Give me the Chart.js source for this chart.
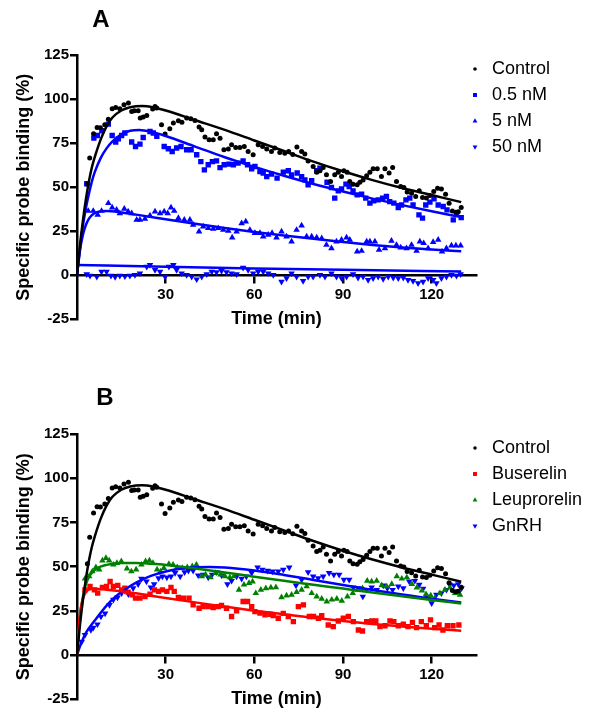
<!DOCTYPE html>
<html>
<head>
<meta charset="utf-8">
<script src="https://cdn.jsdelivr.net/npm/chart.js@4.4.1/dist/chart.umd.min.js"></script>
<style>
  html, body { margin: 0; padding: 0; background: #fff; }
  #page { position: relative; width: 591px; height: 710px; }
  .panel { position: absolute; left: 0; width: 591px; }
  #panelA { top: 0; height: 380px; }
  #panelB { top: 380px; height: 330px; }
</style>
</head>
<body>
<div id="page">
  <div class="panel" id="panelA"><canvas id="chartA"></canvas></div>
  <div class="panel" id="panelB"><canvas id="chartB"></canvas></div>
</div>
<script>
const FONT = '"Liberation Sans", Arial, sans-serif';

const timeTicks = [30, 60, 90, 120];
const bindingTicks = [-25, 0, 25, 50, 75, 100, 125];

// Control (same run in both panels)
const ctrlT = [3.5,4.3,5.6,6.8,7.9,9.4,10.6,11.9,13.1,14.5,15.9,17.4,18.5,19.4,20.7,21.4,22.4,23.6,25.6,26.4,27.0,28.6,29.8,31.4,32.6,34.3,35.5,37.1,38.5,39.9,41.3,42.2,43.3,44.7,46.1,47.2,48.4,49.7,51.2,52.3,53.7,55.1,56.6,57.9,59.6,61.3,62.8,64.2,65.8,66.9,68.6,70.3,71.6,73.0,74.4,76.0,77.1,78.2,79.9,81.1,82.2,83.3,84.4,85.8,87.2,88.4,89.5,90.3,91.4,92.3,93.4,94.8,95.7,96.8,98.0,99.1,100.2,101.6,103.0,104.2,105.6,106.8,108.1,109.5,110.6,111.7,113.2,114.6,115.8,116.9,118.2,119.4,120.7,122.0,123.3,124.7,125.9,127.0,128.2,129.0,130.0];
const ctrlV = [51.7,66.6,80.3,83.9,83.7,85.4,88.6,94.5,95.2,94.5,96.8,97.7,93.0,93.4,93.4,89.2,89.8,90.7,94.3,95.8,94.9,85.4,80.1,83.1,86.4,87.7,86.9,89.2,88.8,87.8,84.1,82.6,78.4,76.9,76.9,80.3,77.8,71.2,71.6,74.0,72.5,72.5,73.1,70.2,68.4,74.0,73.1,71.6,70.2,72.2,69.7,69.3,70.2,68.6,72.8,70.2,68.8,64.9,61.7,58.5,59.3,61.1,57.0,53.2,57.0,58.5,56.0,59.3,58.5,53.2,51.7,51.3,52.8,54.1,56.5,58.5,60.4,60.4,56.0,60.4,58.0,61.1,53.2,50.3,49.8,47.2,46.6,44.7,47.9,44.1,43.8,45.2,47.5,49.4,49.0,46.0,40.9,36.5,35.8,36.1,38.4];
const ctrlFitT = [0,1,2,3,4,5,6,8,10,12,15,18,22,26,30,40,50,60,70,80,90,100,110,120,130];
const ctrlFitV = [0,17,31,43,53,61,67,77,84.5,89.5,93.5,95.3,96,95.2,93.5,88,82.5,76.5,70.5,64.5,59,54,49.5,45.5,41.5];

// Panel A: 0.5 nM
const nm05T = [3.3,5.7,6.9,8.4,10.6,11.9,13.1,14.0,15.1,16.2,18.5,19.8,21.3,22.4,24.7,25.8,27.0,29.5,30.9,32.2,33.7,35.2,37.1,38.6,40.5,41.9,43.1,44.4,45.8,47.2,48.4,49.8,51.4,52.9,54.5,56.2,57.7,59.1,60.2,61.9,63.0,64.2,65.8,67.7,69.8,71.5,72.6,74.5,76.0,77.1,78.2,79.4,81.1,82.2,84.6,86.1,87.2,88.4,89.5,91.0,92.1,93.4,94.8,96.3,97.7,99.1,100.4,101.9,103.4,104.7,105.8,107.2,108.7,109.8,111.3,112.6,113.7,115.7,116.9,118.0,119.4,120.8,122.2,123.9,125.2,127.3,128.4,130.0];
const nm05V = [51.9,77.8,79.3,82.0,85.8,79.3,75.6,77.4,79.3,80.7,75.6,73.1,74.4,78.2,81.6,80.7,78.8,73.1,71.8,70.2,72.2,73.1,71.2,71.2,68.4,64.5,59.8,62.7,64.5,64.9,61.1,62.7,63.1,62.7,63.6,64.9,62.7,60.4,61.7,58.9,58.0,56.0,57.4,55.1,58.5,59.3,57.0,58.0,56.0,54.1,51.3,53.6,59.3,60.8,52.8,49.8,43.8,47.9,49.0,51.7,50.3,47.9,45.6,46.0,43.8,40.9,42.2,42.8,43.8,44.7,41.8,40.9,38.4,39.9,42.8,43.8,39.9,34.3,32.4,39.9,41.5,43.4,39.9,39.0,37.1,31.4,35.2,32.7];
const nm05FitT = [0,1,2,3,4,5,6,8,10,12,15,18,21,25,30,40,50,60,70,80,90,100,110,120,130];
const nm05FitV = [0,15,28,38,46,53,58.5,66.5,72,76,80,82,82.5,81.5,79,73,67,61.5,56.5,51.8,47.5,43.5,39.8,36.3,33];

// Panel A: 5 nM
const nm5T = [3.8,5.5,7.0,8.3,10.6,11.9,13.4,14.5,16.0,17.3,18.5,20.2,21.3,23.0,24.7,26.4,28.1,29.5,30.7,31.8,32.9,34.3,36.3,38.2,39.3,41.3,42.7,44.4,46.1,47.8,49.5,51.2,52.5,54.0,55.7,57.1,58.5,60.2,61.9,63.0,64.7,66.0,67.5,69.2,70.9,72.6,74.3,76.0,77.7,79.4,81.1,82.8,84.4,86.1,87.8,89.5,91.2,92.3,94.8,96.3,98.0,99.1,100.8,102.2,104.2,106.4,108.1,109.5,111.5,113.2,114.9,116.0,117.3,118.8,120.5,122.2,123.5,125.0,126.7,128.2,129.8];
const nm5V = [36.5,36.5,34.3,36.5,40.9,38.4,37.1,35.2,37.7,36.1,35.2,31.4,31.4,32.0,33.9,36.1,35.2,36.1,35.2,38.4,36.5,32.4,31.4,31.4,28.6,24.8,27.6,26.7,26.3,26.7,25.7,25.2,21.4,24.8,29.5,30.5,25.7,23.9,23.9,21.9,22.9,23.9,21.4,24.8,21.9,19.1,25.7,28.2,21.9,21.9,21.4,21.0,17.2,15.3,19.1,20.1,21.4,20.1,13.4,13.8,19.1,19.1,19.1,14.4,15.3,19.5,17.2,15.7,15.3,17.2,13.8,19.1,18.2,15.3,18.8,20.1,13.4,15.3,16.8,16.8,16.8];
const nm5FitT = [0,1,2,3,4,5,6,8,10,15,20,30,40,50,60,70,80,90,100,110,120,130];
const nm5FitV = [0,14,23,28.5,32,34,35.3,36.3,36.4,35.6,34.4,31.8,29.2,26.8,24.6,22.6,20.7,18.9,17.2,15.8,14.6,13.6];

// Panel A: 50 nM
const nm50T = [3.3,4.4,6.7,8.3,10.0,11.5,12.9,14.5,16.2,17.9,19.6,21.3,23.6,24.7,26.4,28.1,29.8,31.1,32.6,33.7,35.4,37.1,38.8,40.5,42.2,43.9,45.6,47.2,48.9,50.6,52.3,54.0,56.2,57.9,59.6,61.3,63.0,64.7,66.4,69.2,70.9,72.6,74.3,76.5,78.2,79.9,82.2,83.9,86.1,87.8,89.5,91.2,93.4,95.1,96.8,98.5,100.2,101.9,103.6,105.3,107.0,108.7,110.4,112.0,113.7,115.4,117.1,118.8,120.5,121.6,123.3,125.0,126.7,128.4,129.8];
const nm50V = [0.6,-0.2,-0.8,2.0,2.0,-0.2,-1.0,-0.2,-0.6,-0.2,0.2,1.1,4.9,5.9,3.0,2.0,-0.8,4.9,5.9,3.0,1.1,0.2,-0.8,-2.3,-0.8,0.6,2.0,1.7,2.4,1.7,1.1,0.6,4.3,3.0,1.1,2.0,2.0,1.1,0.2,-3.6,-1.7,1.1,-0.8,-3.2,-0.8,-0.8,0.2,-0.8,1.1,-0.8,-1.7,-0.8,0.6,-1.4,-0.8,-2.7,-1.7,-0.8,-2.1,-0.8,-1.4,-1.7,-1.4,-2.7,-3.2,-4.5,-3.6,-1.7,-2.7,-4.5,-1.7,-0.8,0.2,-0.2,0.6];
const nm50FitT = [0,30,60,90,130];
const nm50FitV = [5.8,4.8,3.9,3.1,2.1];

// Panel B: Buserelin
const busT = [2.7,4.4,5.9,7.0,8.6,10.0,11.2,12.3,13.8,15.1,16.2,17.3,18.7,19.8,21.3,23.0,24.7,26.2,27.6,28.9,30.4,31.8,32.9,34.3,36.0,37.9,39.3,41.3,42.7,44.4,46.1,47.8,48.9,50.6,52.3,54.0,56.2,57.7,59.1,60.2,61.9,63.6,65.3,66.4,68.1,69.8,71.5,73.2,74.9,76.6,78.6,80.0,81.7,82.8,85.0,86.7,88.4,90.1,91.8,93.5,95.2,96.6,98.0,99.7,101.1,102.5,104.2,105.9,107.2,108.7,110.4,112.0,113.5,114.9,116.5,118.2,119.6,121.0,122.5,123.8,125.3,127.2,129.2];
const busV = [36.9,38.8,36.9,35.0,38.2,38.8,41.6,38.8,39.4,36.9,37.8,35.6,34.1,32.2,32.2,33.1,34.4,36.9,36.0,36.9,36.0,38.2,36.0,32.6,32.2,32.2,28.4,26.5,27.4,27.4,26.9,27.4,28.0,26.5,21.8,25.0,30.3,30.3,27.4,24.6,23.7,22.7,23.1,22.3,20.8,23.6,21.8,18.9,27.4,28.4,21.8,21.8,20.8,22.3,17.0,16.1,19.3,20.8,21.8,18.9,14.2,13.6,18.9,19.3,19.3,16.1,16.6,19.3,18.9,16.6,17.4,16.1,18.5,15.5,18.9,16.6,19.9,15.5,17.0,14.2,16.6,16.6,17.0];
const busFitT = [0,0.5,1,2,3,4,6,10,15,20,30,40,50,60,70,80,90,100,110,120,130];
const busFitV = [0,14,23,32,35.5,37,37.5,37,36.1,34.9,32.3,29.8,27.4,25.1,23.1,21.1,19.3,17.6,16.2,14.9,13.8];

// Panel B: Leuprorelin
const leuT = [2.7,4.1,5.2,6.4,7.5,8.6,9.8,10.9,12.3,13.5,15.0,16.9,18.4,20.0,21.8,23.2,24.5,25.7,27.1,28.3,29.4,31.1,32.5,33.9,35.6,37.3,39.0,40.4,42.2,43.5,45.2,46.9,48.6,50.1,51.7,53.1,54.8,56.5,58.2,59.4,60.5,62.2,63.9,65.6,67.3,69.2,70.9,72.6,74.3,76.0,77.7,79.4,81.1,82.8,84.5,86.2,87.9,89.6,91.5,93.3,94.9,96.6,98.2,99.7,101.4,103.1,104.8,106.5,108.2,109.9,111.6,113.3,115.0,116.7,118.1,119.7,121.1,122.8,124.5,126.2,127.9,129.6];
const leuV = [43.2,44.5,47.3,49.6,48.3,53.4,54.9,53.4,51.1,52.0,53.0,48.9,47.3,48.3,51.1,53.0,53.4,52.0,48.3,47.3,49.2,51.5,51.1,49.6,49.2,49.6,50.2,51.1,44.5,45.5,43.9,46.4,45.5,44.5,43.9,44.5,36.9,39.8,40.7,41.6,35.0,36.9,37.8,38.2,38.3,32.6,33.7,34.1,35.6,36.9,38.8,35.0,33.1,31.8,30.3,31.3,31.8,30.7,33.1,35.0,36.9,37.8,42.0,41.6,42.0,39.4,38.8,40.1,44.5,43.2,43.9,40.1,38.2,36.4,34.4,33.7,32.2,35.0,36.9,38.2,35.0,34.1];
const leuFitT = [0,1,2,3,4,5,7,10,15,20,25,30,40,50,60,70,80,90,100,110,120,130];
const leuFitV = [0,22,33,40,44,46.5,49.3,51,52,52,51.6,51,49,46.7,44.3,42,39.8,37.6,35.4,33.3,31.2,29.2];

// Panel B: GnRH
const gnrhT = [1.6,2.7,4.7,5.5,6.9,8.1,9.5,11.0,12.3,13.7,15.1,16.2,17.4,19.0,20.7,21.8,23.5,25.0,26.1,27.6,28.9,30.4,31.8,33.2,34.9,36.4,37.7,39.3,41.0,42.7,44.4,45.7,47.2,48.9,50.9,52.3,54.0,55.7,57.3,59.1,61.1,62.7,64.5,66.2,68.1,69.8,71.8,74.1,76.0,78.2,79.9,81.6,83.3,85.3,86.9,88.7,90.3,92.1,93.5,95.2,96.7,98.0,99.7,101.4,103.6,105.0,106.8,108.7,110.4,112.4,114.3,115.8,117.1,118.3,120.0,121.6,123.3,125.0,126.1,127.5,129.0,130.1];
const gnrhV = [7.6,11.4,14.2,15.5,17.4,21.8,23.6,28.4,31.3,32.6,35.0,36.4,34.4,37.8,40.1,43.2,41.6,38.2,40.1,43.5,44.5,43.9,44.5,46.4,44.5,46.9,47.7,47.7,45.1,45.5,43.9,45.5,46.9,45.1,40.1,42.0,44.5,43.2,44.5,46.4,49.6,48.3,47.7,47.3,47.3,48.3,49.6,39.4,42.6,46.9,44.5,43.5,44.5,46.4,45.5,45.5,42.6,42.6,38.2,37.8,33.1,36.9,38.2,36.9,39.4,37.8,36.9,38.8,37.8,41.6,42.0,39.8,37.5,33.1,29.3,34.1,35.0,36.9,39.8,39.4,40.1,37.8];
const gnrhFitT = [0,1,2,3,6,10,13,16,20,25,30,35,40,45,50,60,70,80,90,100,110,120,130];
const gnrhFitV = [0,5,9,12.5,19.5,28,33,36.8,41,44.8,47.3,48.8,49.6,49.8,49.5,47.8,45.3,42.5,39.6,36.8,34.2,31.8,29.8];

const BLACK = '#000000';
const BLUE = '#0000ff';
const RED = '#ff0000';
const GREEN = '#008000';

function xy(t, v) {
  return t.map((x, i) => ({ x: x, y: v[i] }));
}

function markers(label, t, v, color, style, radius, rotation) {
  return {
    label: label,
    data: xy(t, v),
    showLine: false,
    pointStyle: style,
    pointRadius: radius,
    pointRotation: rotation || 0,
    pointBackgroundColor: color,
    pointBorderWidth: 0,
    backgroundColor: color,
    order: 2
  };
}

function fitLine(t, v, color) {
  return {
    data: xy(t, v),
    showLine: true,
    borderColor: color,
    borderWidth: 2.5,
    pointRadius: 0,
    cubicInterpolationMode: 'monotone',
    order: 1
  };
}

// panel letter plus the legend at the right of the plot
const panelDecor = {
  id: 'panelDecor',
  afterDraw(chart, args, opts) {
    const ctx = chart.ctx;
    const area = chart.chartArea;
    ctx.save();
    ctx.fillStyle = '#000';
    ctx.font = 'bold 24px ' + FONT;
    ctx.textAlign = 'center';
    ctx.textBaseline = 'alphabetic';
    ctx.fillText(opts.letter, opts.letterX, opts.letterY);

    ctx.font = '18px ' + FONT;
    ctx.textAlign = 'left';
    ctx.textBaseline = 'middle';
    let row = 0;
    chart.data.datasets.forEach(ds => {
      if (ds.showLine) return;
      const y = area.top + 14 + row * 26;
      ctx.fillStyle = ds.pointBackgroundColor;
      Chart.helpers.drawPoint(ctx, {
        pointStyle: ds.pointStyle,
        rotation: ds.pointRotation,
        radius: ds.pointStyle === 'circle' ? 1.8 : 2.8,
        borderWidth: 0
      }, area.right - 1, y);
      ctx.fillStyle = '#000';
      ctx.fillText(ds.label, area.right + 16, y);
      row++;
    });
    ctx.restore();
  }
};

const axisLine = { display: true, drawOnChartArea: false, drawTicks: true, tickLength: 7, color: '#000', lineWidth: 2.5 };
const axisBorder = { display: true, color: '#000', width: 2.5 };
const tickFont = { family: FONT, size: 15, weight: 'bold' };
const titleFont = { family: FONT, size: 18, weight: 'bold' };

function buildScales() {
  return {
    x: {
      type: 'linear',
      min: 0,
      max: 135,
      position: { y: 0 },
      afterBuildTicks: s => { s.ticks = timeTicks.map(v => ({ value: v })); },
      afterFit: s => { s.height = 55; s.paddingLeft = 0; s.paddingRight = 0; },
      grid: axisLine,
      border: axisBorder,
      ticks: { color: '#000', font: tickFont, padding: 4, maxRotation: 0, autoSkip: false },
      title: { display: true, text: 'Time (min)', color: '#000', font: titleFont, padding: 0 }
    },
    y: {
      type: 'linear',
      min: -25,
      max: 125,
      position: 'left',
      afterBuildTicks: s => { s.ticks = bindingTicks.map(v => ({ value: v })); },
      afterFit: s => { s.width = 77; s.paddingTop = 0; s.paddingBottom = 0; },
      grid: axisLine,
      border: axisBorder,
      ticks: { color: '#000', font: tickFont, padding: 1, autoSkip: false },
      title: { display: true, text: 'Specific probe binding (%)', color: '#000', font: titleFont, padding: { top: 13, bottom: 0 } }
    }
  };
}

function makeChart(canvasId, datasets, letter, letterX, letterY, padTop, padBottom) {
  return new Chart(document.getElementById(canvasId), {
    type: 'scatter',
    data: { datasets: datasets },
    plugins: [panelDecor],
    options: {
      responsive: true,
      maintainAspectRatio: false,
      animation: false,
      devicePixelRatio: 1,
      events: [],
      layout: { padding: { left: 0, right: 115, top: padTop, bottom: padBottom } },
      scales: buildScales(),
      plugins: {
        legend: { display: false },
        tooltip: { enabled: false },
        panelDecor: { letter: letter, letterX: letterX, letterY: letterY }
      }
    }
  });
}

makeChart('chartA', [
  markers('Control', ctrlT, ctrlV, BLACK, 'circle', 2.5),
  markers('0.5 nM', nm05T, nm05V, BLUE, 'rect', 3.8),
  markers('5 nM', nm5T, nm5V, BLUE, 'triangle', 3.8),
  markers('50 nM', nm50T, nm50V, BLUE, 'triangle', 3.8, 180),
  fitLine(ctrlFitT, ctrlFitV, BLACK),
  fitLine(nm05FitT, nm05FitV, BLUE),
  fitLine(nm5FitT, nm5FitV, BLUE),
  fitLine(nm50FitT, nm50FitV, BLUE)
], 'A', 101, 26.7, 55, 60.7);

makeChart('chartB', [
  markers('Control', ctrlT, ctrlV, BLACK, 'circle', 2.5),
  markers('Buserelin', busT, busV, RED, 'rect', 3.8),
  markers('Leuprorelin', leuT, leuV, GREEN, 'triangle', 3.8),
  markers('GnRH', gnrhT, gnrhV, BLUE, 'triangle', 3.8, 180),
  fitLine(ctrlFitT, ctrlFitV, BLACK),
  fitLine(busFitT, busFitV, RED),
  fitLine(leuFitT, leuFitV, GREEN),
  fitLine(gnrhFitT, gnrhFitV, BLUE)
], 'B', 105, 25, 54, 10.7);
</script>
</body>
</html>
